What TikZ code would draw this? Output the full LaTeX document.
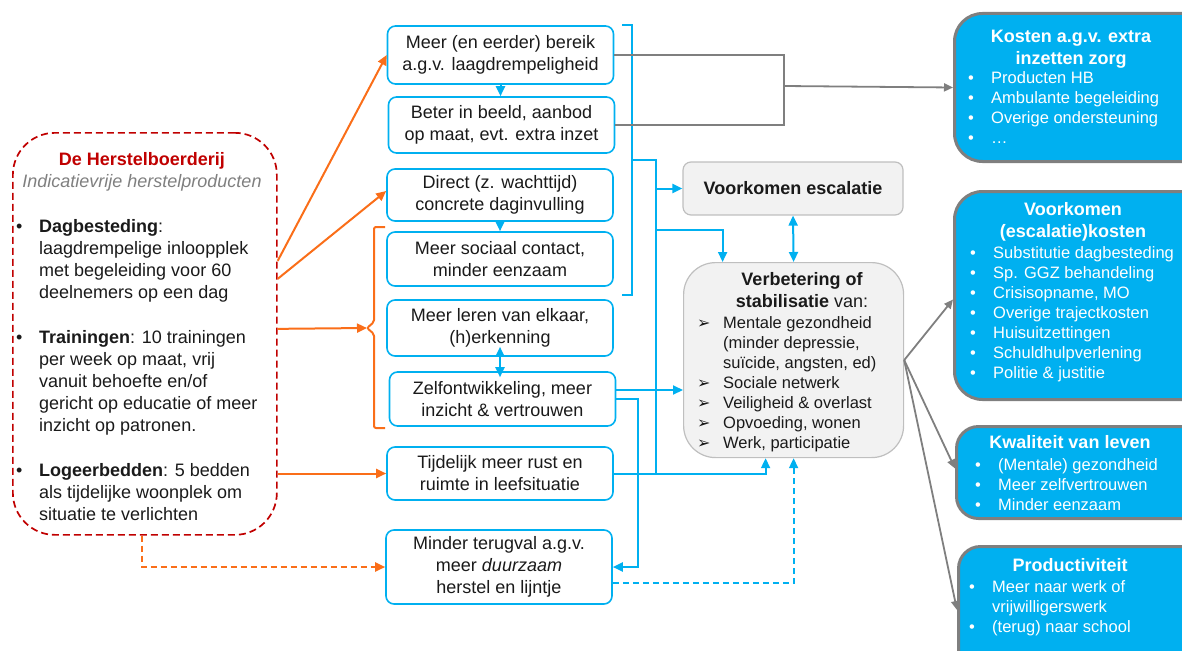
\documentclass[tikz,border=0pt]{standalone}
\usepackage{fontspec}
\setmainfont{Liberation Sans}
\newfontfamily\arrowfont{DejaVu Sans}
\usetikzlibrary{arrows.meta}

\definecolor{sky}{RGB}{0,176,240}
\definecolor{tangerine}{RGB}{250,110,25}
\definecolor{brick}{RGB}{192,0,0}
\definecolor{slate}{RGB}{127,127,127}
\definecolor{mist}{RGB}{242,242,242}
\definecolor{ink}{RGB}{26,26,26}

\newcommand{\mainsize}{\fontsize{18}{22}\selectfont}
\newcommand{\titlesize}{\fontsize{18}{21.5}\selectfont}
\newcommand{\listsize}{\fontsize{16.5}{20}\selectfont}
\newcommand{\bitem}[1]{\makebox[23pt][l]{•}#1}
\newcommand{\aitem}[1]{\makebox[26pt][l]{\arrowfont\fontsize{16}{20}\selectfont ➢}#1}
\newcommand{\more}[1][23pt]{\hspace*{#1}}

\begin{document}
\begin{tikzpicture}[x=1pt,y=-1pt,
    >={Triangle[length=10pt,width=9pt]},
    effect/.style={draw=sky,line width=1.6pt,rounded corners=8pt,fill=white,
      minimum width=226pt,minimum height=54pt,align=center,font=\mainsize,
      text=ink,inner sep=0pt},
    result/.style={draw=black!25,line width=1.2pt,fill=mist,text=ink,inner sep=0pt},
    gain/.style={draw=slate,line width=3pt,fill=sky,rounded corners=28pt,
      minimum width=260pt,anchor=north west},
    gaintitle/.style={text=white,font=\bfseries\titlesize,align=center,
      anchor=base,inner sep=0pt},
    gainlist/.style={text=white,font=\listsize,align=left,anchor=base west,
      inner sep=0pt},
    farmitem/.style={text=ink,font=\mainsize,align=left,anchor=base west,
      inner sep=0pt},
    bluelink/.style={sky,line width=2pt},
    orangelink/.style={tangerine,line width=2pt},
    greylink/.style={slate,line width=1.8pt,>={Triangle[length=9pt,width=8pt]}}]
    \useasboundingbox (0,0) rectangle (1182,650);
    \clip (0,0) rectangle (1182,650);
    % De Herstelboerderij (multi-line texts sit on the baseline of their last line)
    \node[draw=brick,dash pattern=on 7pt off 4pt,line width=1.7pt,rounded corners=42pt,
      minimum width=264pt,minimum height=402pt,anchor=north west] (farm) at (12,132) {};
    \node[font=\bfseries\mainsize,text=brick,anchor=base,inner sep=0pt] (farmtitle) at (142,165) {De Herstelboerderij};
    \node[font=\itshape\mainsize,text=slate,anchor=base,inner sep=0pt] (farmsub) at (142,187) {Indicatievrije herstelproducten};
    \node[farmitem] (dag) at (16,298) {\bitem{\textbf{Dagbesteding}:}\\\more laagdrempelige inloopplek\\\more met begeleiding voor 60\\\more deelnemers op een dag};
    \node[farmitem] (train) at (16,431) {\bitem{\textbf{Trainingen}: 10 trainingen}\\\more per week op maat, vrij\\\more vanuit behoefte en/of\\\more gericht op educatie of meer\\\more inzicht op patronen.};
    \node[farmitem] (beds) at (16,520) {\bitem{\textbf{Logeerbedden}: 5 bedden}\\\more als tijdelijke woonplek om\\\more situatie te verlichten};
    % Effecten
    \node[effect,minimum height=58pt] (reach) at (500.5,55) {Meer (en eerder) bereik\\a.g.v. laagdrempeligheid};
    \node[effect,minimum height=56pt] (insight) at (501.5,125) {Beter in beeld, aanbod\\op maat, evt. extra inzet};
    \node[effect,minimum height=52pt] (direct) at (500,195) {Direct (z. wachttijd)\\concrete daginvulling};
    \node[effect] (social) at (500,259) {Meer sociaal contact,\\minder eenzaam};
    \node[effect,minimum height=56pt] (learn) at (500,328) {Meer leren van elkaar,\\(h)erkenning};
    \node[effect] (growth) at (502.5,399) {Zelfontwikkeling, meer\\inzicht \& vertrouwen};
    \node[effect,minimum height=53pt] (rest) at (500,473.5) {Tijdelijk meer rust en\\ruimte in leefsituatie};
    \node[effect,minimum height=74pt] (relapse) at (499,567) {Minder terugval a.g.v.\\meer \textit{duurzaam}\\herstel en lijntje};
    % Uitkomsten
    \node[result,rounded corners=8pt,minimum width=220pt,minimum height=53pt,
      font=\bfseries\mainsize] (escal) at (793,188.5) {Voorkomen escalatie};
    \node[result,rounded corners=32pt,minimum width=220pt,minimum height=195pt,
      anchor=north west] (improve) at (683,262) {};
    \node[anchor=base,align=center,font=\mainsize,text=ink,inner sep=0pt] (improvetitle) at (802,307) {\textbf{Verbetering of}\\\textbf{stabilisatie} van:};
    \node[anchor=base west,align=left,font=\listsize,text=ink,inner sep=0pt] (improvelist) at (697,448) {\aitem{Mentale gezondheid}\\\more[26pt](minder depressie,\\\more[26pt]suïcide, angsten, ed)\\\aitem{Sociale netwerk}\\\aitem{Veiligheid \& overlast}\\\aitem{Opvoeding, wonen}\\\aitem{Werk, participatie}};
    % Baten
    \node[gain,minimum height=148pt] (cost) at (953,12) {};
    \node[gaintitle] (costtitle) at (1071,64.5) {Kosten a.g.v. extra\\inzetten zorg};
    \node[gainlist] (costlist) at (968,143) {\bitem{Producten HB}\\\bitem{Ambulante begeleiding}\\\bitem{Overige ondersteuning}\\\bitem{…}};
    \node[gain,minimum height=208pt] (prevent) at (953,190) {};
    \node[gaintitle,font=\bfseries\mainsize] (preventtitle) at (1073,237) {Voorkomen\\(escalatie)kosten};
    \node[gainlist] (preventlist) at (970,378) {\bitem{Substitutie dagbesteding}\\\bitem{Sp. GGZ behandeling}\\\bitem{Crisisopname, MO}\\\bitem{Overige trajectkosten}\\\bitem{Huisuitzettingen}\\\bitem{Schuldhulpverlening}\\\bitem{Politie \& justitie}};
    \node[gain,minimum height=92pt,rounded corners=22pt] (life) at (955,425) {};
    \node[gaintitle] (lifetitle) at (1070,448) {Kwaliteit van leven};
    \node[gainlist] (lifelist) at (975,510) {\bitem{(Mentale) gezondheid}\\\bitem{Meer zelfvertrouwen}\\\bitem{Minder eenzaam}};
    \node[gain,minimum height=135pt,rounded corners=22pt] (prod) at (957,545) {};
    \node[gaintitle] (prodtitle) at (1070,571) {Productiviteit};
    \node[gainlist] (prodlist) at (969,632) {\bitem{Meer naar werk of}\\\more vrijwilligerswerk\\\bitem{(terug) naar school}};
    % Oranje pijlen vanuit de boerderij
    \coordinate (obtop) at (374,227);
    \coordinate (obtip) at (367,328);
    \coordinate (obbot) at (374,428);
    \draw[orangelink,->] ([yshift=73pt]farm.east) -- (reach.west);
    \draw[orangelink,->] ([yshift=55pt]farm.east) -- ([yshift=4pt]direct.west);
    \draw[orangelink,->] ([yshift=5pt]farm.east) -- (obtip);
    \draw[orangelink,rounded corners=2pt] ([xshift=11pt]obtop) -- (obtop) -- (374,322) -- (obtip) -- (374,334) -- (obbot) -- ([xshift=11pt]obbot);
    \draw[orangelink,->] (farm.east |- rest.west) -- (rest.west);
    \draw[orangelink,dash pattern=on 6pt off 4pt,->] ([xshift=-3pt]farm.south) |- (relapse.west);
    % Blauwe pijlen tussen effecten
    \coordinate (lg) at (learn.south |- growth.north);
    \draw[bluelink,->] (reach.south) -- (reach.south |- insight.north);
    \draw[bluelink,->] (direct.south) -- (social.north);
    \draw[bluelink,<->] ([yshift=10pt]learn.south) -- ([yshift=-6pt]lg);
    % Accolade en verzamellijn
    \coordinate (brtop) at (632,25);
    \coordinate (brmid) at (632,160);
    \coordinate (brbot) at (632,295);
    \coordinate (bus) at (656,160);
    \coordinate (busdrop) at (656,230);
    \draw[bluelink] ([xshift=-10pt]brtop) -- (brtop) -- (brbot) -- ([xshift=-10pt]brbot);
    \draw[bluelink] (brmid) -- (bus) -- (bus |- rest.east);
    \draw[bluelink,->] (bus |- escal.west) -- (escal.west);
    \draw[bluelink,->] (busdrop) -| ([xshift=-71pt]improve.north);
    \draw[bluelink,<->] (escal.south) -- (improve.north);
    \coordinate (g1) at ([yshift=9pt]growth.east);
    \draw[bluelink,->] (g1) -- (g1 -| improve.west);
    \draw[bluelink,->] (growth.east) -- ++(22,0) |- (relapse.east);
    \draw[bluelink,->] (rest.east) -| ([xshift=-28pt]improve.south);
    \draw[bluelink,dash pattern=on 6pt off 4pt,->] ([yshift=-16pt]relapse.east) -| (improve.south);
    % Grijze pijlen naar de baten
    \coordinate (costjoin) at (784,86);
    \draw[greylink] (reach.east) -| (costjoin);
    \draw[greylink] (insight.east) -| (costjoin);
    \draw[greylink,->] (costjoin) -- (cost.west);
    \draw[greylink,->] (improve.east) -- ([yshift=-4pt]prevent.west);
    \draw[greylink,->] (improve.east) -- ([yshift=4pt]life.west);
    \draw[greylink,->] (improve.east) -- ([yshift=4pt]prod.west);
  \end{tikzpicture}
\end{document}
